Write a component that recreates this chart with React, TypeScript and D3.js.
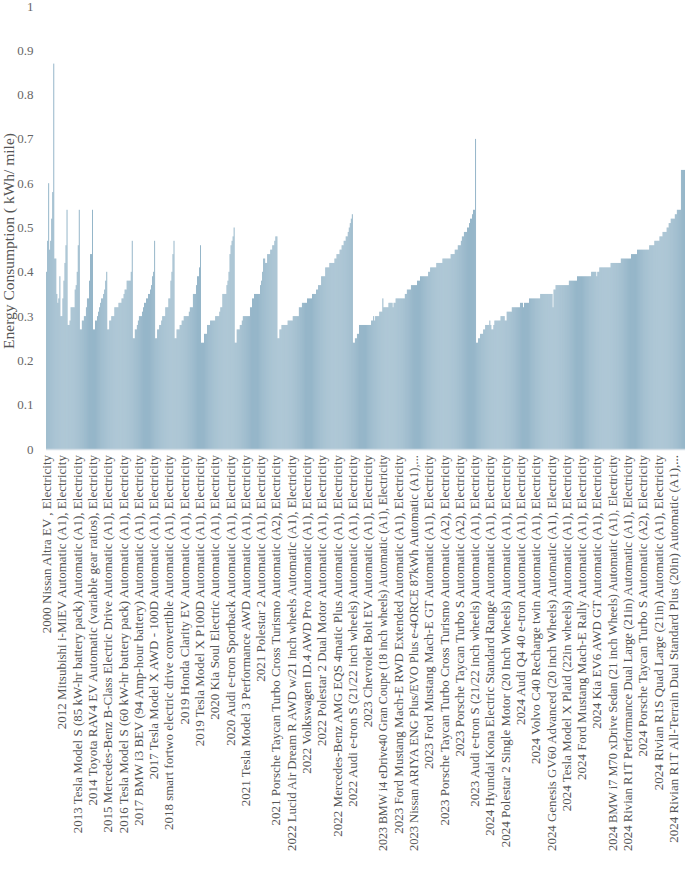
import React, { useLayoutEffect, useRef } from "react";
import * as d3 from "d3";

// Energy consumption (kWh / mile), grouped by model year
const y2000to2011 = [0.40, 0.47, 0.60, 0.45, 0.47, 0.52, 0.58, 0.87, 0.43, 0.43];
const y2012 = [0.35, 0.33, 0.34, 0.39, 0.30, 0.30, 0.34, 0.38, 0.42, 0.46, 0.54];
const y2013 = [0.28, 0.28, 0.29, 0.32, 0.32, 0.32, 0.32, 0.36, 0.37, 0.40, 0.46, 0.54];
const y2014 = [0.27, 0.27, 0.29, 0.29, 0.30, 0.30, 0.32, 0.34, 0.34, 0.38, 0.44, 0.44, 0.54];
const y2015 = [0.27, 0.27, 0.29, 0.29, 0.30, 0.31, 0.32, 0.33, 0.34, 0.34, 0.35, 0.36, 0.38, 0.40];
const y2016 = [0.27, 0.27, 0.29, 0.29, 0.30, 0.30, 0.30, 0.32, 0.32, 0.32, 0.32, 0.33, 0.33, 0.33, 0.34, 0.34, 0.35, 0.36, 0.36, 0.38, 0.38, 0.38, 0.38, 0.40, 0.47];
const y2017 = [0.25, 0.25, 0.27, 0.27, 0.28, 0.29, 0.30, 0.30, 0.30, 0.31, 0.32, 0.33, 0.33, 0.34, 0.34, 0.35, 0.35, 0.36, 0.37, 0.39, 0.40, 0.47];
const y2018 = [0.25, 0.25, 0.27, 0.27, 0.28, 0.28, 0.29, 0.30, 0.30, 0.30, 0.32, 0.32, 0.32, 0.34, 0.34, 0.38, 0.40, 0.44, 0.47];
const y2019 = [0.25, 0.25, 0.27, 0.27, 0.27, 0.28, 0.28, 0.29, 0.29, 0.30, 0.30, 0.30, 0.30, 0.30, 0.31, 0.32, 0.32, 0.32, 0.35, 0.35, 0.35, 0.37, 0.39, 0.39, 0.41, 0.46];
const y2020 = [0.24, 0.24, 0.24, 0.26, 0.26, 0.26, 0.28, 0.28, 0.28, 0.29, 0.29, 0.29, 0.29, 0.29, 0.30, 0.30, 0.30, 0.30, 0.31, 0.32, 0.32, 0.35, 0.35, 0.35, 0.35, 0.37, 0.38, 0.40, 0.44, 0.46, 0.47, 0.48, 0.50];
const y2021 = [0.24, 0.24, 0.27, 0.27, 0.27, 0.28, 0.28, 0.29, 0.30, 0.30, 0.30, 0.30, 0.30, 0.30, 0.30, 0.32, 0.32, 0.34, 0.34, 0.35, 0.35, 0.35, 0.35, 0.35, 0.35, 0.37, 0.38, 0.40, 0.43, 0.43, 0.42, 0.42, 0.44, 0.44, 0.44, 0.45, 0.45, 0.46, 0.46, 0.47, 0.48, 0.48];
const y2022 = [
  0.25, 0.25, 0.27, 0.27, 0.28, 0.28, 0.28, 0.28, 0.28, 0.28,
  0.29, 0.29, 0.29, 0.29, 0.29, 0.30, 0.30, 0.30, 0.30, 0.30, 0.30,
  0.32, 0.32, 0.32, 0.33, 0.33, 0.33, 0.33, 0.33,
  0.34, 0.34, 0.34, 0.34, 0.34, 0.35, 0.35, 0.35, 0.35, 0.36, 0.36,
  0.37, 0.37, 0.37, 0.39, 0.39, 0.39, 0.39, 0.41, 0.41, 0.41, 0.41,
  0.42, 0.42, 0.42, 0.42, 0.42, 0.43, 0.43, 0.44, 0.44, 0.44,
  0.45, 0.45, 0.46, 0.46, 0.47, 0.47, 0.48, 0.48, 0.49, 0.50, 0.51, 0.52, 0.53,
];
const y2023 = [
  0.24, 0.24, 0.25, 0.25, 0.26, 0.26,
  0.28, 0.28, 0.28, 0.28, 0.28, 0.28, 0.28, 0.28, 0.28, 0.28, 0.28, 0.28,
  0.29, 0.29, 0.30, 0.29, 0.30, 0.30, 0.30, 0.30, 0.31, 0.31, 0.31, 0.34,
  0.32, 0.32, 0.32, 0.32, 0.32, 0.33, 0.33, 0.33, 0.33, 0.32, 0.33, 0.33,
  0.34, 0.34, 0.34, 0.34, 0.34, 0.34, 0.34, 0.34, 0.34, 0.35, 0.35,
  0.36, 0.36, 0.36, 0.36, 0.37, 0.37, 0.37, 0.37, 0.37, 0.37, 0.38, 0.38, 0.38,
  0.39, 0.39, 0.39, 0.39, 0.39, 0.39, 0.39, 0.39, 0.40, 0.40,
  0.41, 0.41, 0.41, 0.41, 0.41, 0.41, 0.42, 0.42, 0.42, 0.42, 0.42, 0.42,
  0.43, 0.43, 0.43, 0.43, 0.43, 0.43, 0.43, 0.43, 0.44, 0.44, 0.44, 0.44,
  0.45, 0.45, 0.45, 0.46, 0.46, 0.46, 0.47, 0.48, 0.48, 0.49, 0.49, 0.49,
  0.50, 0.50, 0.51, 0.52, 0.52, 0.53, 0.54, 0.54, 0.70,
];
const y2024 = [
  0.24, 0.24, 0.25, 0.25, 0.26, 0.26, 0.26, 0.27, 0.27, 0.28, 0.28, 0.28, 0.28,
  0.29, 0.28, 0.27, 0.27, 0.28, 0.29, 0.29, 0.29, 0.29, 0.29, 0.29,
  0.30, 0.30, 0.30, 0.30, 0.29, 0.29, 0.31, 0.31, 0.31, 0.31, 0.31,
  0.32, 0.32, 0.32, 0.32, 0.32, 0.32, 0.32, 0.32, 0.33, 0.33, 0.33, 0.32,
  0.33, 0.33, 0.33, 0.33, 0.33,
  0.34, 0.34, 0.34, 0.34, 0.34, 0.34, 0.34, 0.34, 0.34, 0.34, 0.34,
  0.35, 0.35, 0.35, 0.35, 0.35, 0.35, 0.35, 0.35, 0.35, 0.35, 0.35, 0.35,
  0.32, 0.36, 0.36,
  0.37, 0.37, 0.37, 0.37, 0.37, 0.37, 0.37, 0.37, 0.37, 0.37, 0.37, 0.37, 0.37,
  0.38, 0.38, 0.38, 0.38, 0.38, 0.38, 0.38, 0.38,
  0.39, 0.39, 0.39, 0.39, 0.39, 0.39, 0.39, 0.39, 0.39, 0.39, 0.39, 0.39, 0.39, 0.39,
  0.40, 0.40, 0.40, 0.40, 0.40, 0.39, 0.40, 0.40,
  0.41, 0.41, 0.41, 0.41, 0.41, 0.41, 0.41, 0.41, 0.41, 0.41, 0.41,
  0.42, 0.42, 0.42, 0.42, 0.42, 0.42, 0.42, 0.42, 0.42, 0.42,
  0.43, 0.43, 0.43, 0.43, 0.43, 0.43, 0.43, 0.43, 0.43, 0.43,
  0.44, 0.44, 0.44, 0.44, 0.44, 0.44,
  0.45, 0.45, 0.45, 0.45, 0.45, 0.45, 0.45, 0.45, 0.45, 0.45, 0.45, 0.45,
  0.46, 0.46, 0.46, 0.46, 0.46, 0.47, 0.47, 0.47, 0.47, 0.47,
  0.48, 0.48, 0.48, 0.49, 0.49, 0.49, 0.49, 0.50, 0.50, 0.51, 0.51,
  0.52, 0.52, 0.52, 0.52, 0.53, 0.53, 0.54, 0.54, 0.54, 0.54,
  0.63, 0.63, 0.63, 0.63,
];

const values: number[] = [
  ...y2000to2011, ...y2012, ...y2013, ...y2014, ...y2015, ...y2016, ...y2017,
  ...y2018, ...y2019, ...y2020, ...y2021, ...y2022, ...y2023, ...y2024,
];

// one label is shown for every 15th vehicle
const labelEvery = 15;
const tickLabels = [
  "2000 Nissan Altra EV , Electricity",
  "2012 Mitsubishi i-MiEV Automatic (A1), Electricity",
  "2013 Tesla Model S (85 kW-hr battery pack) Automatic (A1), Electricity",
  "2014 Toyota RAV4 EV Automatic (variable gear ratios), Electricity",
  "2015 Mercedes-Benz B-Class Electric Drive Automatic (A1), Electricity",
  "2016 Tesla Model S (60 kW-hr battery pack) Automatic (A1), Electricity",
  "2017 BMW i3 BEV (94 Amp-hour battery) Automatic (A1), Electricity",
  "2017 Tesla Model X AWD - 100D Automatic (A1), Electricity",
  "2018 smart fortwo electric drive convertible Automatic (A1), Electricity",
  "2019 Honda Clarity EV Automatic (A1), Electricity",
  "2019 Tesla Model X P100D Automatic (A1), Electricity",
  "2020 Kia Soul Electric Automatic (A1), Electricity",
  "2020 Audi e-tron Sportback Automatic (A1), Electricity",
  "2021 Tesla Model 3 Performance AWD Automatic (A1), Electricity",
  "2021 Polestar 2 Automatic (A1), Electricity",
  "2021 Porsche Taycan Turbo Cross Turismo Automatic (A2), Electricity",
  "2022 Lucid Air Dream R AWD w/21 inch wheels Automatic (A1), Electricity",
  "2022 Volkswagen ID.4 AWD Pro Automatic (A1), Electricity",
  "2022 Polestar 2 Dual Motor Automatic (A1), Electricity",
  "2022 Mercedes-Benz AMG EQS 4matic Plus Automatic (A1), Electricity",
  "2022 Audi e-tron S (21/22 inch wheels) Automatic (A1), Electricity",
  "2023 Chevrolet Bolt EV Automatic (A1), Electricity",
  "2023 BMW i4 eDrive40 Gran Coupe (18 inch wheels) Automatic (A1), Electricity",
  "2023 Ford Mustang Mach-E RWD Extended Automatic (A1), Electricity",
  "2023 Nissan ARIYA ENG Plus/EVO Plus e-4ORCE 87kWh Automatic (A1),...",
  "2023 Ford Mustang Mach-E GT Automatic (A1), Electricity",
  "2023 Porsche Taycan Turbo Cross Turismo Automatic (A2), Electricity",
  "2023 Porsche Taycan Turbo S Automatic (A2), Electricity",
  "2023 Audi e-tron S (21/22 inch wheels) Automatic (A1), Electricity",
  "2024 Hyundai Kona Electric Standard Range Automatic (A1), Electricity",
  "2024 Polestar 2 Single Motor (20 Inch Wheels) Automatic (A1), Electricity",
  "2024 Audi Q4 40 e-tron Automatic (A1), Electricity",
  "2024 Volvo C40 Recharge twin Automatic (A1), Electricity",
  "2024 Genesis GV60 Advanced (20 inch Wheels) Automatic (A1), Electricity",
  "2024 Tesla Model X Plaid (22in wheels) Automatic (A1), Electricity",
  "2024 Ford Mustang Mach-E Rally Automatic (A1), Electricity",
  "2024 Kia EV6 AWD GT Automatic (A1), Electricity",
  "2024 BMW i7 M70 xDrive Sedan (21 inch Wheels) Automatic (A1), Electricity",
  "2024 Rivian R1T Performance Dual Large (21in) Automatic (A1), Electricity",
  "2024 Porsche Taycan Turbo S Automatic (A2), Electricity",
  "2024 Rivian R1S Quad Large (21in) Automatic (A1), Electricity",
  "2024 Rivian R1T All-Terrain Dual Standard Plus (20in) Automatic (A1),...",
];

const yTicks = [0, 0.1, 0.2, 0.3, 0.4, 0.5, 0.6, 0.7, 0.8, 0.9, 1];
const yTitle = "Energy Consumption ( kWh/ mile)";

const FONT = "Liberation Serif, Times New Roman, serif";
const LABEL_MAX = 396;

export default function App() {
  const W = 685;
  const H = 892;
  const n = values.length;
  const x = d3
    .scaleBand<number>()
    .domain(d3.range(n))
    .range([46.2, 684.9])
    .paddingInner(0.12);
  const y = d3.scaleLinear().domain([0, 1]).range([449, 6]);
  const fmt = d3.format("~g");
  const labelsRef = useRef<SVGGElement>(null);

  useLayoutEffect(() => {
    const g = labelsRef.current;
    if (!g) return;
    d3.select(g)
      .selectAll<SVGTextElement, unknown>("text")
      .each(function () {
        const len = this.getComputedTextLength();
        if (len > LABEL_MAX) {
          this.setAttribute("textLength", String(LABEL_MAX));
          this.setAttribute("lengthAdjust", "spacingAndGlyphs");
        }
      });
  }, []);

  return (
    <svg
      width={W}
      height={H}
      style={{ position: "absolute", left: 0, top: 0, background: "#fff" }}
      fontFamily={FONT}
    >
      <g>
        {values.map((v, i) => (
          <rect
            key={i}
            x={x(i)}
            y={y(v)}
            width={x.bandwidth()}
            height={y(0) - y(v)}
            fill="#8aaec3"
          />
        ))}
      </g>
      <line x1={46} x2={685} y1={y(0) + 0.5} y2={y(0) + 0.5} stroke="#d3dee6" strokeWidth={1.5} />
      <g fill="#666" fontSize={13}>
        {yTicks.map((t) => (
          <text key={t} x={33.5} y={y(t)} textAnchor="end" dy="0.35em">
            {fmt(t)}
          </text>
        ))}
      </g>
      <text
        transform={`translate(8.5, 241) rotate(-90)`}
        textAnchor="middle"
        dy="0.35em"
        fontSize={15.5}
        fill="#555"
      >
        {yTitle}
      </text>
      <g ref={labelsRef} fill="#555" fontSize={13}>
        {tickLabels.map((lab, j) => {
          const i = j * labelEvery;
          const cx = (x(i) ?? 0) + x.bandwidth() / 2;
          return (
            <text
              key={j}
              transform={`translate(${cx}, 455) rotate(-90)`}
              textAnchor="end"
              dy="0.35em"
            >
              {lab}
            </text>
          );
        })}
      </g>
    </svg>
  );
}
